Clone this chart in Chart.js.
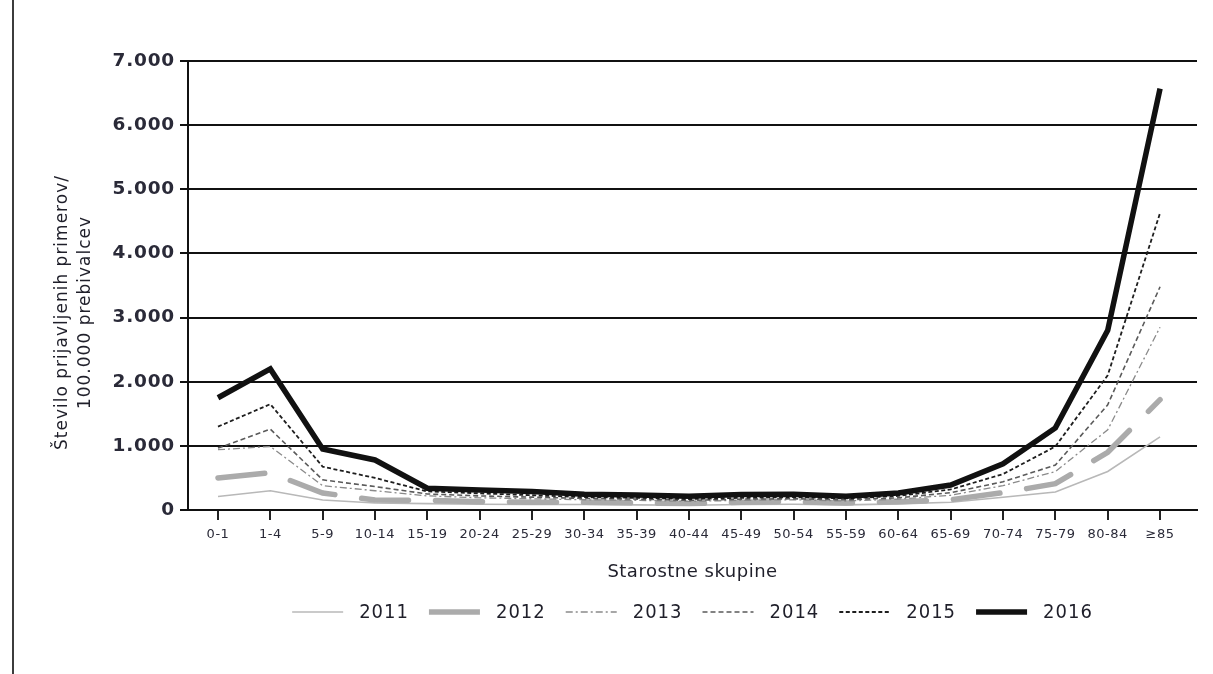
<!DOCTYPE html>
<html>
<head>
<meta charset="utf-8">
<script src="https://cdn.jsdelivr.net/npm/chart.js@4.4.1/dist/chart.umd.min.js"></script>
<style>
  html, body { margin: 0; padding: 0; background: #ffffff; }
  #wrap { position: relative; width: 1213px; height: 674px; }
  #wrap canvas { position: absolute; left: 0; top: 0; }
  #frame { position: absolute; left: 12px; top: 0; width: 2px; height: 674px; background: #3c3c3c; }
</style>
</head>
<body>
<div id="wrap">
  <canvas id="chart" width="1213" height="674"></canvas>
  <div id="frame"></div>
</div>
<script>
// Age groups (x axis)
const ageGroups = ['0-1', '1-4', '5-9', '10-14', '15-19', '20-24', '25-29', '30-34', '35-39',
  '40-44', '45-49', '50-54', '55-59', '60-64', '65-69', '70-74', '75-79', '80-84', '≥85'];

// Reported cases per 100.000 inhabitants, by year
const years = ['2011', '2012', '2013', '2014', '2015', '2016'];
const rate2011 = [210, 300, 155, 110, 100, 90, 85, 85, 80, 75, 85, 90, 80, 95, 120, 200, 280, 600, 1140];
const rate2012 = [500, 580, 265, 155, 150, 130, 120, 120, 110, 100, 120, 130, 110, 130, 160, 270, 410, 900, 1720];
const rate2013 = [940, 990, 380, 300, 220, 190, 175, 160, 150, 135, 150, 160, 140, 170, 230, 380, 600, 1250, 2850];
const rate2014 = [965, 1260, 470, 365, 250, 220, 200, 180, 170, 150, 170, 175, 160, 190, 270, 440, 700, 1640, 3480];
const rate2015 = [1300, 1650, 675, 500, 290, 260, 230, 200, 190, 170, 190, 200, 180, 220, 320, 560, 990, 2100, 4630];
const rate2016 = [1750, 2200, 950, 780, 340, 310, 290, 245, 235, 215, 240, 245, 215, 265, 390, 720, 1280, 2800, 6570];

// Y axis tick values
const yTicks = [0, 1000, 2000, 3000, 4000, 5000, 6000, 7000];

// Axis titles
const xTitle = 'Starostne skupine';
const yTitle = ['Število prijavljenih primerov/', '100.000 prebivalcev'];

const rates = [rate2011, rate2012, rate2013, rate2014, rate2015, rate2016];

// Line style per year: colour, width, dash pattern, draw order (0 = on top)
const styles = [
  { color: '#b8b8b8', width: 1.6, dash: [], order: 5 },
  { color: '#ababab', width: 5.5, dash: [47, 27], order: 4, cap: 'round', legendDash: [] },
  { color: '#8a8a8a', width: 1.3, dash: [7, 3, 2, 3], order: 3 },
  { color: '#5a5a5a', width: 1.6, dash: [5, 3], order: 2 },
  { color: '#1e1e1e', width: 1.8, dash: [4, 2.5], order: 1 },
  { color: '#111111', width: 5.5, dash: [], order: 0 }
];

const TEXT = '#1f1f2a';
const condensed = '"DejaVu Sans Condensed", "DejaVu Sans", sans-serif';
const regular = '"DejaVu Sans", sans-serif';

const thousands = v => String(v).replace(/\B(?=(\d{3})+(?!\d))/g, '.');

// Adds letter spacing to the labels and title of one axis
function letterSpace(scale, spacing) {
  if (scale.$spaced) return;
  scale.$spaced = true;
  ['drawLabels', 'drawTitle'].forEach(fn => {
    const orig = scale[fn];
    scale[fn] = function (...args) {
      const ctx = this.ctx;
      ctx.save();
      ctx.letterSpacing = spacing;
      orig.apply(this, args);
      ctx.restore();
    };
  });
}

const datasets = years.map((year, k) => ({
  label: year,
  data: rates[k].map((y, i) => ({ x: i, y: y })),
  borderColor: styles[k].color,
  backgroundColor: styles[k].color,
  borderWidth: styles[k].width,
  borderDash: styles[k].dash,
  borderCapStyle: styles[k].cap || 'butt',
  borderJoinStyle: 'miter',
  pointRadius: 0,
  pointHoverRadius: 0,
  tension: 0,
  fill: false,
  order: styles[k].order
}));

// Rotated two-line y title and the legend row under the x title
const decorations = {
  id: 'decorations',
  afterDraw(chart) {
    const ctx = chart.ctx;
    const area = chart.chartArea;
    ctx.save();
    ctx.fillStyle = TEXT;
    ctx.textBaseline = 'middle';

    // y axis title
    ctx.font = '17px ' + regular;
    ctx.letterSpacing = '1px';
    ctx.textAlign = 'center';
    yTitle.forEach((line, i) => {
      ctx.save();
      ctx.translate(63 + i * 23, (area.top + area.bottom) / 2 + 27);
      ctx.rotate(-Math.PI / 2);
      ctx.fillText(line, 0, 0);
      ctx.restore();
    });

    // legend
    ctx.font = '20px ' + condensed;
    ctx.letterSpacing = '1px';
    const sampleW = 51, gapText = 16, gapItem = 20;
    const widths = years.map(y => ctx.measureText(y).width);
    const total = widths.reduce((s, w) => s + sampleW + gapText + w, 0) + gapItem * (years.length - 1);
    let x = (area.left + area.right) / 2 - total / 2;
    const yMid = 612;
    ctx.textAlign = 'left';
    years.forEach((yr, k) => {
      const st = styles[k];
      ctx.beginPath();
      ctx.strokeStyle = st.color;
      ctx.lineWidth = st.width;
      ctx.lineCap = 'butt';
      ctx.setLineDash(st.legendDash || st.dash);
      ctx.moveTo(x, yMid);
      ctx.lineTo(x + sampleW, yMid);
      ctx.stroke();
      ctx.setLineDash([]);
      ctx.fillText(yr, x + sampleW + gapText, yMid + 1);
      x += sampleW + gapText + widths[k] + gapItem;
    });
    ctx.restore();
  }
};

new Chart(document.getElementById('chart'), {
  type: 'line',
  data: { datasets: datasets },
  plugins: [decorations],
  options: {
    responsive: false,
    animation: false,
    events: [],
    layout: { padding: { left: 0, right: 16, top: 61, bottom: 84 } },
    plugins: {
      tooltip: { enabled: false },
      legend: { display: false }
    },
    scales: {
      x: {
        type: 'linear',
        min: -0.573,
        max: 18.706,
        afterBuildTicks(scale) {
          scale.ticks = ageGroups.map((_, i) => ({ value: i }));
        },
        afterFit(scale) {
          scale.height = 80;
          letterSpace(scale, '0.5px');
        },
        ticks: {
          autoSkip: false,
          maxRotation: 0,
          minRotation: 0,
          padding: 7,
          color: '#2a2a38',
          font: { family: regular, size: 13 },
          callback: v => ageGroups[v]
        },
        grid: {
          drawOnChartArea: false,
          drawTicks: true,
          tickLength: 10,
          color: '#222222',
          lineWidth: 2
        },
        border: { display: true, color: '#111111', width: 2 },
        title: {
          display: true,
          text: xTitle,
          color: TEXT,
          font: { family: regular, size: 18 },
          padding: { top: 0, bottom: 7 }
        }
      },
      y: {
        min: 0,
        max: 7000,
        afterBuildTicks(scale) {
          scale.ticks = yTicks.map(v => ({ value: v }));
        },
        afterFit(scale) {
          scale.width = 188;
          letterSpace(scale, '0.8px');
        },
        ticks: {
          padding: 5,
          color: '#2a2a38',
          font: { family: regular, size: 18.5, weight: 'bold' },
          callback: v => thousands(v)
        },
        grid: {
          color: '#111111',
          lineWidth: 2,
          drawTicks: true,
          tickLength: 8
        },
        border: { display: true, color: '#111111', width: 2 },
        title: { display: false }
      }
    }
  }
});
</script>
</body>
</html>
